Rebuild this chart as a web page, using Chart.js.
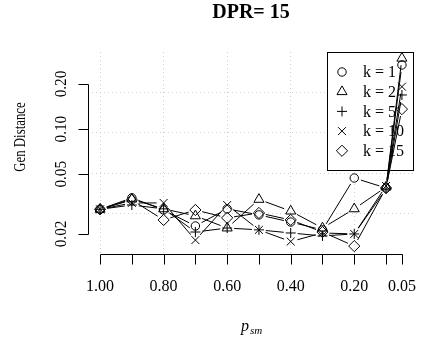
<!DOCTYPE html>
<html>
<head>
<meta charset="utf-8">
<script src="https://cdn.jsdelivr.net/npm/chart.js@4.4.1/dist/chart.umd.min.js"></script>
<style>
html, body { margin: 0; padding: 0; background: #fff; }
</style>
</head>
<body>
<canvas id="genChart" width="421" height="342"></canvas>
<script>
// p_sm values (x axis runs from 1.00 down to 0.05)
var psm = [1.00, 0.90, 0.80, 0.70, 0.60, 0.50, 0.40, 0.30, 0.20, 0.10, 0.05];

// Gen Distance for each k
var genK1  = [0.0292, 0.0348, 0.0289, 0.0226, 0.0294, 0.0268, 0.0240, 0.0213, 0.0472, 0.0405, 0.268];
var genK2  = [0.0292, 0.0342, 0.0294, 0.0264, 0.0219, 0.0340, 0.0284, 0.0219, 0.0294, 0.0411, 0.297];
var genK5  = [0.0292, 0.0312, 0.0294, 0.0206, 0.0219, 0.0213, 0.0203, 0.0194, 0.0200, 0.0399, 0.169];
var genK10 = [0.0292, 0.0322, 0.0322, 0.0182, 0.0312, 0.0213, 0.0178, 0.0203, 0.0200, 0.0418, 0.192];
var genK15 = [0.0292, 0.0337, 0.0248, 0.0289, 0.0256, 0.0276, 0.0248, 0.0206, 0.0166, 0.0405, 0.136];

var seriesLabels = ['k = 1', 'k = 2', 'k = 5', 'k = 10', 'k = 15'];

// axis ticks and labels
var xTicks = [1.00, 0.90, 0.80, 0.70, 0.60, 0.50, 0.40, 0.30, 0.20, 0.10, 0.05];
var xTickLabels = ['1.00', '', '0.80', '', '0.60', '', '0.40', '', '0.20', '', '0.05'];
var yTicks = [0.02, 0.05, 0.10, 0.20];
var yTickLabels = ['0.02', '0.05', '0.10', '0.20'];

// dotted grid positions
var xGrid = [1.0, 0.8, 0.6, 0.4, 0.2];
var yGrid = [0.0273, 0.0509, 0.0946, 0.176];

var serif = '"Liberation Serif", "DejaVu Serif", serif';
var pointStyles = ['circle', 'triangle', 'cross', 'crossRot', 'rectRot'];
var pointSizes = [4.2, 5.8, 5, 5.6, 5.6];

// R type="b": leave a small gap at both ends of each segment
var GAP = 7;
function gapDash(ctx) {
        var dx = ctx.p1.x - ctx.p0.x, dy = ctx.p1.y - ctx.p0.y;
        var L = Math.sqrt(dx * dx + dy * dy);
        if (L <= 2 * GAP) return [0, L + 50];
        return [0, GAP, L - 2 * GAP, L + 50];
}

function toXY(vals) {
        return vals.map(function (v, i) { return { x: psm[i], y: v }; });
}

var allSeries = [genK1, genK2, genK5, genK10, genK15];
var datasets = allSeries.map(function (vals, i) {
        return {
                label: seriesLabels[i],
                data: toXY(vals),
                showLine: true,
                borderColor: '#000',
                borderWidth: 1,
                tension: 0,
                pointStyle: pointStyles[i],
                pointRadius: pointSizes[i],
                pointBorderColor: '#000',
                pointBorderWidth: 1,
                pointBackgroundColor: 'rgba(0,0,0,0)',
                segment: {
                        borderDash: gapDash,
                        borderDashOffset: function (ctx) { return ctx.p0DataIndex * 0.0001; }
                }
        };
});

// small symbol painter for the legend
function drawSymbol(ctx, style, r, x, y) {
        ctx.beginPath();
        if (style === 'circle') {
                ctx.arc(x, y, r, 0, Math.PI * 2);
        } else if (style === 'triangle') {
                for (var k = 0; k < 3; k++) {
                        var a = k * 2 * Math.PI / 3;
                        var px = x + Math.sin(a) * r, py = y - Math.cos(a) * r;
                        if (k === 0) ctx.moveTo(px, py); else ctx.lineTo(px, py);
                }
                ctx.closePath();
        } else if (style === 'cross') {
                ctx.moveTo(x - r, y); ctx.lineTo(x + r, y);
                ctx.moveTo(x, y - r); ctx.lineTo(x, y + r);
        } else if (style === 'crossRot') {
                var d = r * Math.SQRT1_2;
                ctx.moveTo(x - d, y - d); ctx.lineTo(x + d, y + d);
                ctx.moveTo(x + d, y - d); ctx.lineTo(x - d, y + d);
        } else if (style === 'rectRot') {
                ctx.moveTo(x - r, y); ctx.lineTo(x, y - r);
                ctx.lineTo(x + r, y); ctx.lineTo(x, y + r);
                ctx.closePath();
        }
        ctx.stroke();
}

// vertical text, squeezed along its length like the original
function vText(ctx, str, x, y, font, squeeze) {
        ctx.save();
        ctx.translate(x, y);
        ctx.scale(1, squeeze);
        ctx.rotate(-Math.PI / 2);
        ctx.font = font;
        ctx.textAlign = 'center';
        ctx.textBaseline = 'alphabetic';
        ctx.fillText(str, 0, 0);
        ctx.restore();
}

var rStyle = {
        id: 'rStyle',
        beforeDatasetsDraw: function (chart) {
                // legend box (topright), drawn under the lines
                var ctx = chart.ctx, area = chart.chartArea;
                var bx = 327, by = area.top, bw = area.right - 327, bh = 119;
                ctx.save();
                ctx.fillStyle = '#fff';
                ctx.fillRect(bx, by, bw, bh);
                ctx.strokeStyle = '#000';
                ctx.lineWidth = 1;
                ctx.strokeRect(bx + 0.5, by + 0.5, bw - 1, bh - 1);
                ctx.font = '16px ' + serif;
                ctx.fillStyle = '#000';
                ctx.textBaseline = 'middle';
                ctx.textAlign = 'left';
                for (var i = 0; i < seriesLabels.length; i++) {
                        var ry = by + 20 + i * 19.7;
                        drawSymbol(ctx, pointStyles[i], pointSizes[i], 342, ry);
                        ctx.fillText(seriesLabels[i], 363, ry + 1);
                }
                ctx.restore();
        },
        afterDraw: function (chart) {
                var ctx = chart.ctx, area = chart.chartArea;
                var xs = chart.scales.x, ys = chart.scales.y;
                ctx.save();
                ctx.strokeStyle = '#000';
                ctx.fillStyle = '#000';
                ctx.lineWidth = 1;

                // x axis
                var ay = area.bottom + 0.5;
                var x0 = Math.round(xs.getPixelForValue(xTicks[0])) + 0.5;
                var x1 = Math.round(xs.getPixelForValue(xTicks[xTicks.length - 1])) + 0.5;
                ctx.beginPath();
                ctx.moveTo(x0, ay); ctx.lineTo(x1, ay);
                xTicks.forEach(function (v) {
                        var px = Math.round(xs.getPixelForValue(v)) + 0.5;
                        ctx.moveTo(px, ay); ctx.lineTo(px, ay + 10);
                });
                ctx.stroke();
                ctx.font = '16px ' + serif;
                ctx.textAlign = 'center';
                ctx.textBaseline = 'alphabetic';
                xTicks.forEach(function (v, i) {
                        if (xTickLabels[i]) ctx.fillText(xTickLabels[i], xs.getPixelForValue(v), 291);
                });

                // y axis
                var ax = area.left + 0.5;
                var y0 = Math.round(ys.getPixelForValue(yTicks[0])) + 0.5;
                var y1 = Math.round(ys.getPixelForValue(yTicks[yTicks.length - 1])) + 0.5;
                ctx.beginPath();
                ctx.moveTo(ax, y0); ctx.lineTo(ax, y1);
                yTicks.forEach(function (v) {
                        var py = Math.round(ys.getPixelForValue(v)) + 0.5;
                        ctx.moveTo(ax, py); ctx.lineTo(ax - 10, py);
                });
                ctx.stroke();
                yTicks.forEach(function (v, i) {
                        vText(ctx, yTickLabels[i], 66, ys.getPixelForValue(v), '16px ' + serif, 0.95);
                });

                // titles
                var cx = (area.left + area.right) / 2;
                ctx.font = 'bold 20px ' + serif;
                ctx.textAlign = 'center';
                ctx.fillText('DPR= 15', cx, 18);

                vText(ctx, 'Gen Distance', 25, 137, '16px ' + serif, 0.8);

                ctx.font = 'italic 16px ' + serif;
                var wp = ctx.measureText('p').width;
                ctx.font = 'italic 11px ' + serif;
                var ws = ctx.measureText('sm').width;
                var sx = cx - (wp + ws) / 2;
                ctx.textAlign = 'left';
                ctx.font = 'italic 16px ' + serif;
                ctx.fillText('p', sx, 331);
                ctx.font = 'italic 11px ' + serif;
                ctx.fillText('sm', sx + wp + 1, 334);
                ctx.restore();
        }
};

var ctx = document.getElementById('genChart').getContext('2d');
var genChart = new Chart(ctx, {
        type: 'scatter',
        data: { datasets: datasets },
        options: {
                responsive: false,
                animation: false,
                devicePixelRatio: 1,
                layout: { padding: { top: 52, right: 7, left: 0, bottom: 0 } },
                plugins: {
                        legend: { display: false },
                        tooltip: { enabled: false },
                        title: { display: false }
                },
                scales: {
                        x: {
                                type: 'linear',
                                reverse: true,
                                bounds: 'data',
                                min: 0.012,
                                max: 1.038,
                                afterBuildTicks: function (s) { s.ticks = xGrid.map(function (v) { return { value: v }; }); },
                                afterFit: function (s) { s.height = 88; },
                                ticks: { display: false },
                                border: { display: false, dash: [1, 3] },
                                grid: { color: '#cfcfcf', lineWidth: 1, drawTicks: false }
                        },
                        y: {
                                type: 'logarithmic',
                                bounds: 'data',
                                min: 0.0147,
                                max: 0.327,
                                afterBuildTicks: function (s) { s.ticks = yGrid.map(function (v) { return { value: v }; }); },
                                afterFit: function (s) { s.width = 88; },
                                ticks: { display: false },
                                border: { display: false, dash: [1, 3] },
                                grid: { color: '#cfcfcf', lineWidth: 1, drawTicks: false }
                        }
                }
        },
        plugins: [rStyle]
});
</script>
</body>
</html>
